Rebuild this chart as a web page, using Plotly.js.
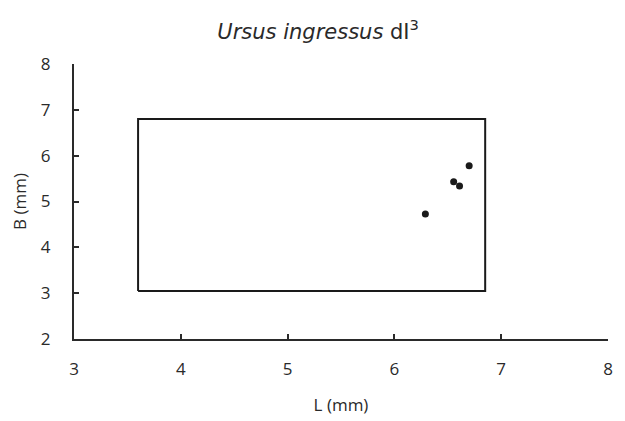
<!DOCTYPE html>
<html>
<head>
<meta charset="utf-8">
<script src="https://cdn.plot.ly/plotly-3.0.1.min.js"></script>
<style>html,body{margin:0;padding:0;background:#fff;}#chart{width:625px;height:421px;}</style>
</head>
<body>
<div id="chart"></div>
<script>
// Specimen measurements
var lengthL = [6.29, 6.555, 6.61, 6.70];
var breadthB = [4.73, 5.43, 5.34, 5.78];
// Comparison range (min, max)
var rangeL = [3.6, 6.85];
var rangeB = [3.05, 6.8];
var xTicks = [3, 4, 5, 6, 7, 8];
var yTicks = [2, 3, 4, 5, 6, 7, 8];

var boxX = [rangeL[0], rangeL[1], rangeL[1], rangeL[0], rangeL[0]];
var boxY = [rangeB[0], rangeB[0], rangeB[1], rangeB[1], rangeB[0]];

var traces = [
  {x: boxX, y: boxY, type: 'scatter', mode: 'lines', line: {color: '#1a1a1a', width: 2}, hoverinfo: 'skip', showlegend: false},
  {x: lengthL, y: breadthB, type: 'scatter', mode: 'markers', marker: {color: '#1a1a1a', size: 7}, showlegend: false}
];

var tfont = 'Open Sans, sans-serif';
var layout = {
  width: 625, height: 421,
  margin: {l: 74, r: 17, t: 64, b: 82},
  paper_bgcolor: '#fff', plot_bgcolor: '#fff',
  showlegend: false,
  title: {text: '<i>Ursus ingressus</i> dI<sup>3</sup>', font: {family: 'DejaVu Sans, sans-serif', size: 21, color: '#2a2a2a'}, x: 0.509, xanchor: 'center', y: 0.925, yanchor: 'middle'},
  xaxis: {
    range: [3, 8], tickvals: xTicks, ticktext: xTicks.map(String),
    showgrid: false, zeroline: false, showline: true, linecolor: '#2a2a2a', linewidth: 2,
    ticks: 'inside', ticklen: 5, tickwidth: 2, tickcolor: '#2a2a2a',
    ticklabelstandoff: 14,
    tickfont: {family: tfont, size: 17, color: '#2a2a2a'},
    title: {text: 'L (mm)', font: {family: tfont, size: 17, color: '#2a2a2a'}, standoff: 20}
  },
  yaxis: {
    range: [2, 8], tickvals: yTicks, ticktext: yTicks.map(String),
    showgrid: false, zeroline: false, showline: true, linecolor: '#2a2a2a', linewidth: 2,
    ticks: 'inside', ticklen: 5, tickwidth: 2, tickcolor: '#2a2a2a',
    ticklabelstandoff: 18,
    tickfont: {family: tfont, size: 17, color: '#2a2a2a'},
    title: {text: 'B (mm)', font: {family: tfont, size: 17, color: '#2a2a2a'}, standoff: 10}
  }
};
Plotly.newPlot('chart', traces, layout, {displayModeBar: false, staticPlot: true});
</script>
</body>
</html>
